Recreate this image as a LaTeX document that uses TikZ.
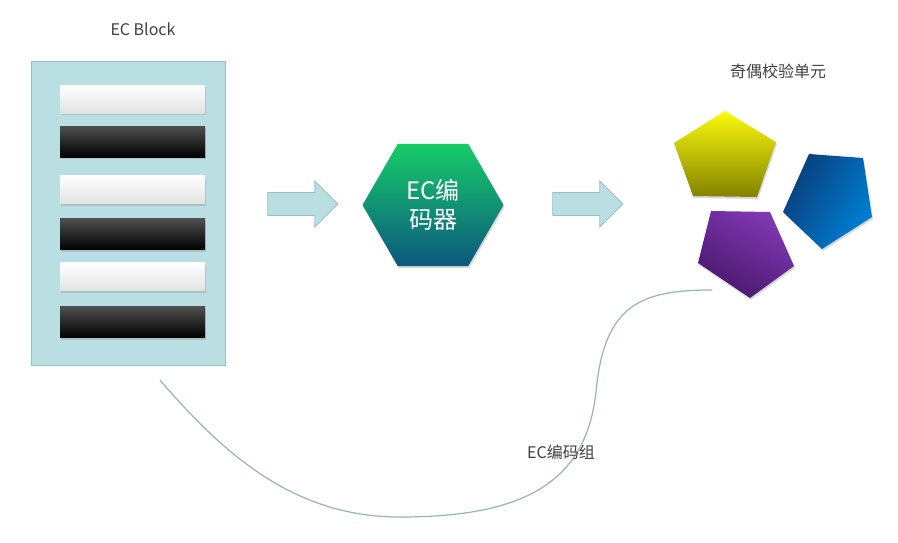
\documentclass[tikz,border=0pt]{standalone}
\usepackage{fontspec}
\setmainfont{Noto Sans CJK SC}
\usetikzlibrary{shapes.geometric,shapes.arrows,shadows}

\definecolor{blockfill}{RGB}{186,223,227}
\definecolor{blockline}{RGB}{152,192,197}
\definecolor{barlight}{RGB}{226,226,226}
\definecolor{bardark}{RGB}{80,80,80}
\definecolor{hextop}{RGB}{22,204,104}
\definecolor{hexbot}{RGB}{12,88,126}
\definecolor{yeltop}{RGB}{250,250,12}
\definecolor{yelmid}{RGB}{236,236,8}
\definecolor{yelbot}{RGB}{130,130,0}
\definecolor{bluedark}{RGB}{8,62,122}
\definecolor{bluelight}{RGB}{0,128,214}
\definecolor{purlight}{RGB}{128,56,178}
\definecolor{purdark}{RGB}{72,24,108}
\definecolor{linkgray}{RGB}{150,180,182}
\definecolor{textgray}{RGB}{64,64,64}

\begin{document}
\begin{tikzpicture}[x=1pt, y=-1pt, every node/.style={font=\fontsize{16}{19}\selectfont, text=textgray}]
  \tikzstyle{softshadow}=[drop shadow={shadow xshift=1pt, shadow yshift=-2pt, opacity=0.3}]
  \tikzstyle{bar}=[rectangle, minimum width=145pt, inner sep=0pt, softshadow]
  \tikzstyle{whitebar}=[bar, minimum height=28pt, top color=white, middle color=white, bottom color=barlight]
  \tikzstyle{blackbar}=[bar, minimum height=31pt, top color=bardark, middle color=black, bottom color=black]
  \tikzstyle{blockarrow}=[single arrow, draw=blockline, fill=blockfill, line width=0.8pt, minimum height=70pt, single arrow head extend=11.5pt, inner xsep=0pt, inner ysep=11pt]
  \tikzstyle{link}=[draw=linkgray, line width=1.2pt]
  \useasboundingbox (0,0) rectangle (898,542);

  % EC block with its data strips
  \node (title) at (143,29) {EC Block};
  \node[rectangle, draw=blockline, fill=blockfill, line width=0.8pt, minimum width=194pt, minimum height=304pt, inner sep=0pt] (block) at (128,213) {};
  \node[whitebar] (w1) at (132.5,99) {};
  \node[blackbar] (b1) at (132.5,141.5) {};
  \node[whitebar] (w2) at (132.5,189.5) {};
  \node[blackbar] (b2) at (132.5,234) {};
  \node[whitebar] (w3) at (132.5,276.5) {};
  \node[blackbar] (b3) at (132.5,322) {};

  % encoder
  \node[blockarrow] (arr1) at (297,204) {};
  \node[regular polygon, regular polygon sides=6, minimum size=141pt, inner sep=0pt, top color=hextop, bottom color=hexbot, softshadow, text=white, align=center, font=\fontsize{24}{29}\selectfont] (enc) at (433,205) {EC编\\码器};
  \node[blockarrow] (arr2) at (582,204) {};

  % parity units
  \node (parity) at (778,71) {奇偶校验单元};
  \shade[top color=yeltop, middle color=yelmid, bottom color=yelbot, softshadow] (725,111) -- (776,142) -- (757,197) -- (693,196) -- (674,143) -- cycle;
  \shade[top color=bluedark, bottom color=bluelight, shading angle=60, softshadow] (809,154) -- (863,158) -- (872,217) -- (822,249) -- (783,212) -- cycle;
  \shade[top color=purlight, bottom color=purdark, shading angle=-30, softshadow] (711,211) -- (770,212) -- (794,266) -- (750,298) -- (698,263) -- cycle;

  % EC group curve
  \coordinate (gstart) at (160,380);
  \coordinate (gend) at (712,290);
  \draw[link] (gstart) .. controls (230,462) and (300,517) .. (400,517) .. controls (525,517) and (586,482) .. (596,392) .. controls (604,305) and (640,290) .. (gend);
  \node (group) at (561,452) {EC编码组};
\end{tikzpicture}
\end{document}
